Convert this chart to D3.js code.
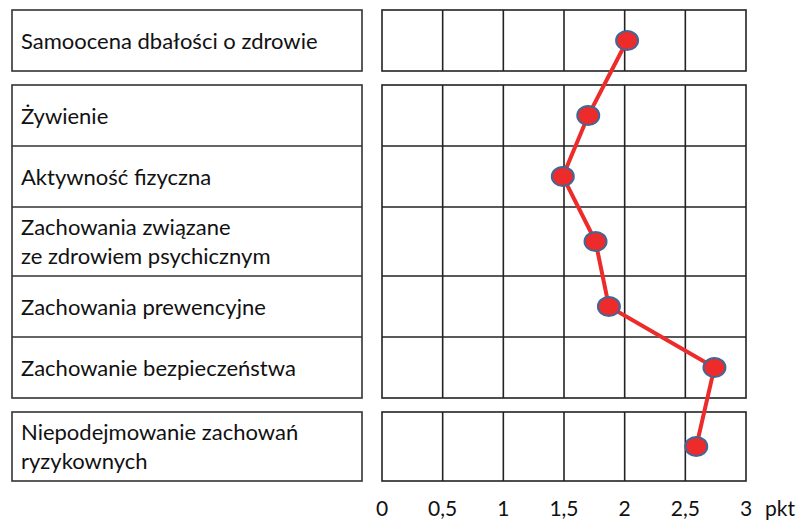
<!DOCTYPE html>
<html>
<head>
<meta charset="utf-8">
<script src="https://cdn.jsdelivr.net/npm/d3@7"></script>
<style>
  body { margin: 0; background: #fff; }
  svg { display: block; }
  .lbl { font-family: Lato, "Open Sans", sans-serif; font-size: 22px; fill: #111; }
  .tick-lbl { font-family: Lato, "Open Sans", sans-serif; font-size: 21px; fill: #111; }
</style>
</head>
<body>
<svg id="chart" width="797" height="522"></svg>
<script>
// categories, split into lines as in the original table
const categories = [
  ["Samoocena dbałości o zdrowie"],
  ["Żywienie"],
  ["Aktywność fizyczna"],
  ["Zachowania związane", "ze zdrowiem psychicznym"],
  ["Zachowania prewencyjne"],
  ["Zachowanie bezpieczeństwa"],
  ["Niepodejmowanie zachowań", "ryzykownych"]
];
// which block each row belongs to
const groups = [0, 1, 1, 1, 1, 1, 2];
// mean score (pkt)
const values = [2.02, 1.70, 1.49, 1.76, 1.87, 2.74, 2.59];
const ticks = [0, 0.5, 1, 1.5, 2, 2.5, 3];
const tickLabels = ["0", "0,5", "1", "1,5", "2", "2,5", "3"];
const unit = "pkt";

const svg = d3.select("#chart");

const x = d3.scaleLinear().domain([0, 3]).range([382, 746]);
const boxLeft = 12, boxRight = 362;

// row layout: single-line rows ~61px, two-line rows a bit taller, gap between blocks
const rowH = (lines) => lines.length > 1 ? 69 : 61;
const gap = 14;
let yCur = 10;
const rows = categories.map((lines, i) => {
  if (i > 0 && groups[i] !== groups[i - 1]) yCur += gap;
  const r = { lines, y0: yCur, y1: yCur + rowH(lines), value: values[i], group: groups[i] };
  yCur = r.y1;
  return r;
});

const gridStroke = "#222";

// left label boxes + right grid, one block per group
const groupIds = Array.from(new Set(groups));
groupIds.forEach((g) => {
  const gr = rows.filter((r) => r.group === g);
  const top = gr[0].y0, bottom = gr[gr.length - 1].y1;
  svg.append("rect")
    .attr("x", boxLeft).attr("y", top)
    .attr("width", boxRight - boxLeft).attr("height", bottom - top)
    .attr("fill", "none").attr("stroke", "#333").attr("stroke-width", 1.6);
  svg.append("rect")
    .attr("x", x(0)).attr("y", top)
    .attr("width", x(3) - x(0)).attr("height", bottom - top)
    .attr("fill", "none").attr("stroke", gridStroke).attr("stroke-width", 1.6);
  // vertical grid lines
  svg.selectAll(null)
    .data(ticks.slice(1, -1))
    .join("line")
    .attr("x1", (d) => x(d)).attr("x2", (d) => x(d))
    .attr("y1", top).attr("y2", bottom)
    .attr("stroke", gridStroke).attr("stroke-width", 1.6);
  // horizontal separators inside the block
  gr.slice(1).forEach((r) => {
    svg.append("line")
      .attr("x1", boxLeft).attr("x2", boxRight)
      .attr("y1", r.y0).attr("y2", r.y0)
      .attr("stroke", "#333").attr("stroke-width", 1.6);
    svg.append("line")
      .attr("x1", x(0)).attr("x2", x(3))
      .attr("y1", r.y0).attr("y2", r.y0)
      .attr("stroke", gridStroke).attr("stroke-width", 1.6);
  });
});

// row labels
rows.forEach((r) => {
  const mid = (r.y0 + r.y1) / 2;
  const n = r.lines.length;
  const t = svg.append("text").attr("class", "lbl");
  r.lines.forEach((ln, i) => {
    t.append("tspan")
      .attr("x", boxLeft + 9)
      .attr("y", mid + 8 + (i - (n - 1) / 2) * 29)
      .text(ln);
  });
});

// tick labels
svg.selectAll(".tick-lbl")
  .data(ticks)
  .join("text")
  .attr("class", "tick-lbl")
  .attr("x", (d) => x(d))
  .attr("y", 516)
  .attr("text-anchor", "middle")
  .text((d, i) => tickLabels[i]);

svg.append("text")
  .attr("class", "tick-lbl")
  .attr("x", x(3) + 19)
  .attr("y", 516)
  .text(unit);

// profile line + markers
const line = d3.line()
  .x((d) => x(d.value))
  .y((d) => (d.y0 + d.y1) / 2);

svg.append("path")
  .datum(rows)
  .attr("d", line)
  .attr("fill", "none")
  .attr("stroke", "#ee2b2b")
  .attr("stroke-width", 4);

svg.selectAll(".pt")
  .data(rows)
  .join("ellipse")
  .attr("class", "pt")
  .attr("cx", (d) => x(d.value))
  .attr("cy", (d) => (d.y0 + d.y1) / 2)
  .attr("rx", 11)
  .attr("ry", 9.5)
  .attr("fill", "#ee2b2b")
  .attr("stroke", "#41679a")
  .attr("stroke-width", 2);
</script>
</body>
</html>
